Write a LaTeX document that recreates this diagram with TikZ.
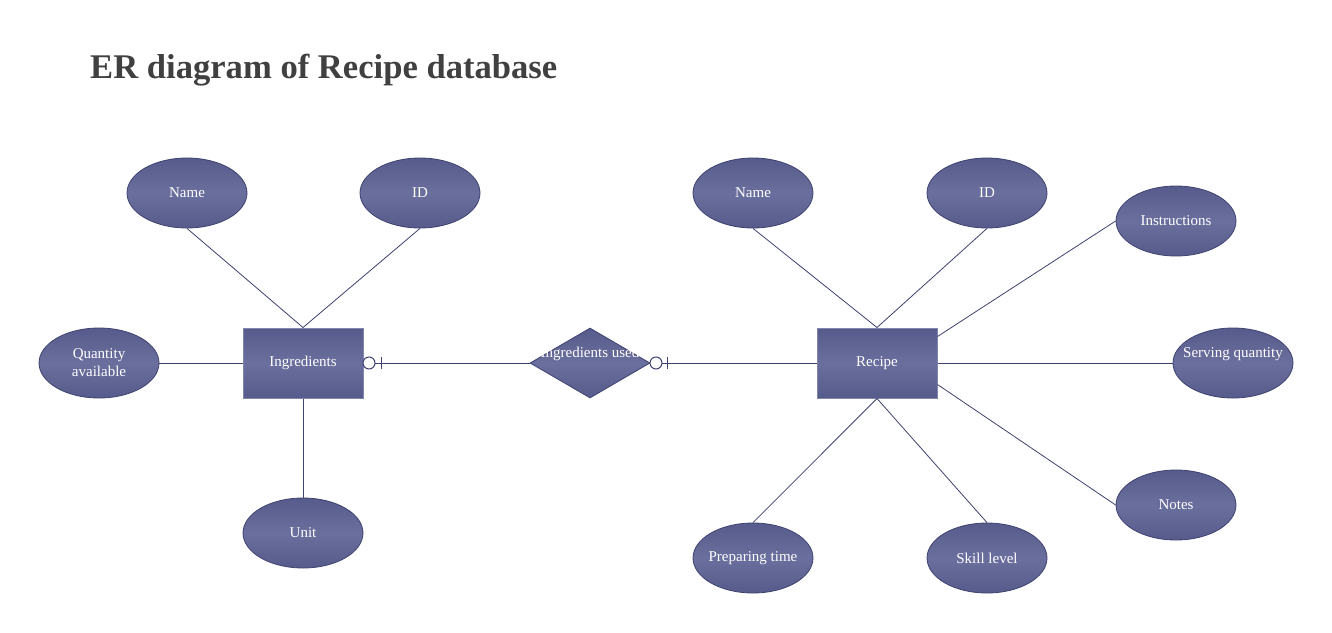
\documentclass[tikz,border=0pt]{standalone}
\usepackage{fontspec}
\setmainfont{Liberation Serif}
\usetikzlibrary{shapes.geometric}
\definecolor{shedge}{HTML}{565B8B}
\definecolor{shmid}{HTML}{6A6F9D}
\definecolor{shline}{HTML}{3E4270}
\definecolor{rectborder}{HTML}{7F86AE}
\definecolor{titlegray}{HTML}{404040}
\tikzset{
  shfill/.style={top color=shedge, bottom color=shedge, middle color=shmid},
  attr/.style={ellipse, shfill, draw=shline, line width=0.8pt, minimum width=120pt, minimum height=70pt, inner sep=0pt, text=white, font=\fontsize{15}{18}\selectfont, align=center},
  entity/.style={rectangle, shfill, draw=rectborder, line width=1pt, minimum width=120pt, minimum height=70pt, inner sep=0pt, text=white, font=\fontsize{15}{18}\selectfont},
  relbox/.style={diamond, shfill, draw=shline, line width=0.8pt, minimum width=120pt, minimum height=70pt, inner sep=0pt},
  lbl/.style={text=white, font=\fontsize{15}{18}\selectfont, inner sep=0pt},
  conn/.style={draw=shline, line width=0.8pt},
  zeroring/.style={circle, draw=shline, fill=white, line width=1pt, minimum size=12pt, inner sep=0pt},
}
\begin{document}
\begin{tikzpicture}[x=1pt,y=-1pt]
\useasboundingbox (0,0) rectangle (1332,632);
\fill[white] (0,0) rectangle (1332,632);
\node[anchor=base west, inner sep=0pt, text=titlegray, font=\fontsize{34.6}{40}\selectfont\bfseries] (title) at (90,78) {ER diagram of Recipe database};

% Ingredients side
\node[entity] (i) at (303,363) {Ingredients};
\node[attr] (iname) at (187,193) {Name};
\node[attr] (iid) at (420,193) {ID};
\node[attr] (iqty) at (99,363) {Quantity\\available};
\node[attr] (iunit) at (303,533) {Unit};

% Relationship
\node[relbox] (rel) at (590,363) {};
\node[lbl] (rellbl) at (590,354) {Ingredients used};

% Recipe side
\node[entity] (r) at (877,363) {Recipe};
\node[attr] (rname) at (753,193) {Name};
\node[attr] (rid) at (987,193) {ID};
\node[attr] (rinst) at (1176,221) {Instructions};
\node[attr] (rserv) at (1233,363) {};
\node[lbl] (rservlbl) at (1233,354) {Serving quantity};
\node[attr] (rnotes) at (1176,505) {Notes};
\node[attr] (rprep) at (753,558) {};
\node[lbl] (rpreplbl) at (753,558) {Preparing time};
\node[attr] (rskill) at (987,558) {Skill level};

% connectors
\draw[conn] (iname.south) -- (i.north);
\draw[conn] (iid.south) -- (i.north);
\draw[conn] (iqty.east) -- (i.west);
\draw[conn] (iunit.north) -- (i.south);

\draw[conn] (rname.south) -- (r.north);
\draw[conn] (rid.south) -- (r.north);
\draw[conn] (rinst.west) -- ([yshift=-9pt]r.north east);
\draw[conn] (rserv.west) -- (r.east);
\draw[conn] (rnotes.west) -- ([yshift=14pt]r.south east);
\draw[conn] (rprep.north) -- (r.south);
\draw[conn] (rskill.north) -- (r.south);

\draw[conn] (i.east) -- (rel.west);
\draw[conn] (rel.east) -- (r.west);
\node[zeroring] (z1) at (369,363) {};
\draw[conn, line width=1pt] ([xshift=12pt,yshift=6pt]z1.center) -- ([xshift=12pt,yshift=-6pt]z1.center);
\node[zeroring] (z2) at (656,363) {};
\draw[conn, line width=1pt] ([xshift=11pt,yshift=6pt]z2.center) -- ([xshift=11pt,yshift=-6pt]z2.center);
\end{tikzpicture}
\end{document}
